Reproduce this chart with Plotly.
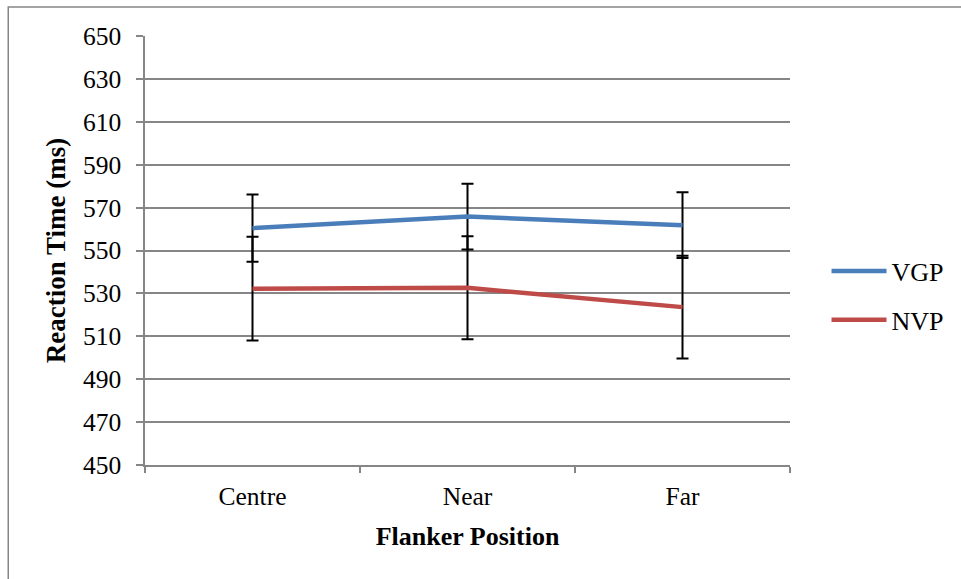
import plotly.graph_objects as go

categories = ["Centre", "Near", "Far"]
vgp_means = [560.4, 565.8, 561.8]
vgp_err = [15.7, 15.3, 15.3]
nvp_means = [532.2, 532.6, 523.6]
nvp_err = [24.2, 24.0, 24.0]
y_ticks = [450, 470, 490, 510, 530, 550, 570, 590, 610, 630, 650]

FONT = "Liberation Serif, Times New Roman, serif"
GRID = "#868686"

fig = go.Figure()
fig.add_trace(go.Scatter(
    x=categories, y=vgp_means, name="VGP", mode="lines",
    line=dict(color="#4A7EBB", width=4.5),
    error_y=dict(type="data", array=vgp_err, color="black", thickness=2, width=6),
    legendgroup="a",
))
fig.add_trace(go.Scatter(
    x=categories, y=nvp_means, name="NVP", mode="lines",
    line=dict(color="#BE4B48", width=4.5),
    error_y=dict(type="data", array=nvp_err, color="black", thickness=2, width=6),
    legendgroup="b",
))

fig.update_layout(
    width=961, height=579,
    margin=dict(l=145, r=170, t=36, b=114),
    paper_bgcolor="white", plot_bgcolor="white",
    font=dict(family=FONT, size=25, color="black"),
    legend=dict(x=1.055, y=0.395, xanchor="left", yanchor="middle",
                font=dict(size=26), tracegroupgap=12, itemwidth=55,
                bgcolor="rgba(0,0,0,0)"),
    xaxis=dict(type="category", range=[-0.5, 2.5], showgrid=False,
               showline=True, linecolor=GRID, linewidth=1.5,
               ticks="outside", tickson="boundaries", ticklen=6,
               tickcolor=GRID, tickwidth=1.5,
               tickfont=dict(size=25.5), ticklabelstandoff=8,
               title=dict(text="<b>Flanker Position</b>", font=dict(size=26), standoff=16)),
    yaxis=dict(range=[450, 650], tickvals=y_ticks, showgrid=True,
               gridcolor=GRID, gridwidth=1.5,
               showline=True, linecolor=GRID, linewidth=1.5,
               ticks="outside", ticklen=7, tickcolor=GRID, tickwidth=1.5,
               tickfont=dict(size=25.5), ticklabelstandoff=10, zeroline=False,
               title=dict(text="<b>Reaction Time (ms)</b>", font=dict(size=27), standoff=9)),
    shapes=[dict(type="rect", xref="paper", yref="paper",
                 x0=-0.212, x1=1.3, y0=-0.35, y1=1.0676,
                 line=dict(color=GRID, width=1.5), fillcolor="rgba(0,0,0,0)",
                 layer="below")],
)

fig.write_html("out.html")
